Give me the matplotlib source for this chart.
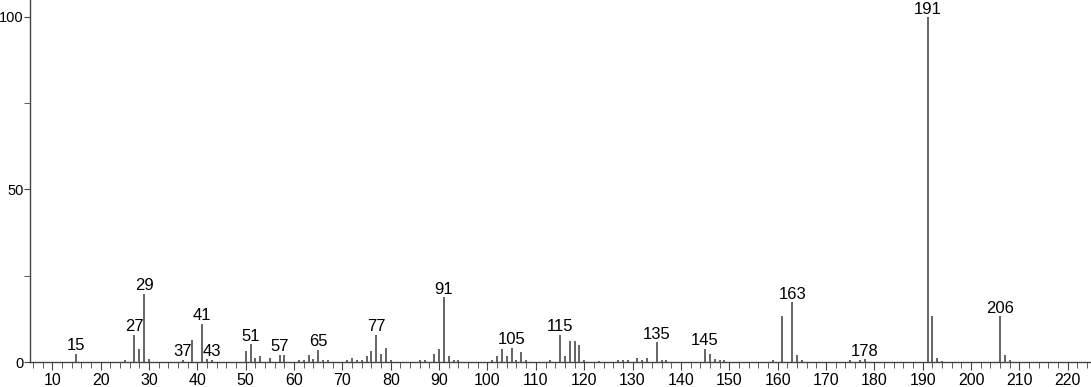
import matplotlib
matplotlib.use("Agg")
import matplotlib.pyplot as plt
from matplotlib.ticker import MultipleLocator

plt.rcParams['font.family'] = ['Liberation Sans', 'DejaVu Sans']

# m/z and relative intensity
mz = [15, 25, 27, 28, 29, 30, 37, 39, 41, 42, 43, 50, 51, 52, 53, 55, 57, 58,
      61, 62, 63, 64, 65, 66, 67, 71, 72, 73, 74, 75, 76, 77, 78, 79, 80,
      86, 87, 89, 90, 91, 92, 93, 94, 101, 102, 103, 104, 105, 106, 107, 108,
      113, 115, 116, 117, 118, 119, 120, 123, 127, 128, 129, 131, 132, 133,
      135, 136, 137, 145, 146, 147, 148, 149, 159, 161, 163, 164, 165,
      175, 177, 178, 191, 192, 193, 194, 206, 207, 208]
intensity = [2.4, 0.7, 7.9, 3.8, 19.8, 1.0, 0.7, 6.3, 11.1, 1.0, 0.7, 3.3, 5.2, 1.2, 1.7, 1.1, 2.1, 1.9,
             0.7, 0.7, 2.1, 1.0, 3.6, 0.7, 0.7, 0.7, 1.2, 0.7, 0.5, 1.6, 3.3, 7.9, 2.4, 4.0, 0.7,
             0.7, 0.6, 2.4, 3.8, 18.8, 1.8, 0.7, 0.5, 0.7, 1.8, 3.9, 1.6, 4.2, 0.7, 3.0, 0.7,
             0.6, 7.9, 1.8, 6.0, 6.0, 5.0, 0.6, 0.4, 0.6, 0.6, 0.6, 1.1, 0.6, 1.1,
             5.7, 0.7, 0.7, 3.9, 2.4, 0.9, 0.7, 0.6, 0.6, 13.4, 17.4, 2.1, 0.7,
             0.6, 0.5, 0.9, 100, 13.4, 1.2, 0.3, 13.2, 2.1, 0.7]
labeled = [15, 27, 29, 37, 41, 43, 51, 57, 65, 77, 91, 105, 115, 135, 145, 163, 178, 191, 206]

fig = plt.figure(figsize=(10.91, 3.87), dpi=100)
ax = fig.add_axes([30 / 1091, 25 / 387, 1061 / 1091, 362 / 387])

ax.vlines(mz, 0, intensity, color='#3a3a3a', linewidth=1.1)

for m, v in zip(mz, intensity):
    if m in labeled:
        ax.text(m, v + 0.1, str(m), ha='center', va='bottom', fontsize=12, color='black')

ax.set_xlim(5.4, 224.8)
ax.set_ylim(0, 104.9)
ax.xaxis.set_major_locator(MultipleLocator(10))
ax.xaxis.set_minor_locator(MultipleLocator(2))
ax.yaxis.set_major_locator(MultipleLocator(50))
ax.yaxis.set_minor_locator(MultipleLocator(25))

for s in ['top', 'right']:
    ax.spines[s].set_visible(False)
for s in ['left', 'bottom']:
    ax.spines[s].set_color('#444444')
    ax.spines[s].set_linewidth(1.0)

ax.tick_params(axis='both', which='major', color='#444444')
ax.tick_params(axis='y', which='major', length=4, pad=0.5, labelsize=10.5)
ax.tick_params(axis='x', which='major', length=6, pad=2, labelsize=11.5)
ax.tick_params(axis='both', which='minor', length=4, color='#444444')

fig.savefig('out.png', dpi=100)
